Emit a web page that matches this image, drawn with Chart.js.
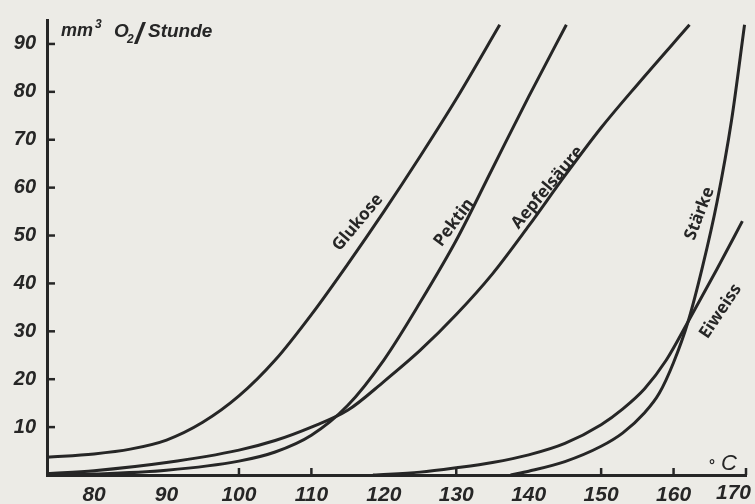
<!DOCTYPE html>
<html>
<head>
<meta charset="utf-8">
<script src="https://cdn.jsdelivr.net/npm/chart.js@4/dist/chart.umd.min.js"></script>
<style>
  html, body { margin: 0; padding: 0; background: #ecebe6; }
</style>
</head>
<body>
<canvas id="myChart" width="755" height="504"></canvas>
<script>
// tick values
let xTicks = [80, 90, 100, 110, 120, 130, 140, 150, 160, 170];
let xTickMarks = [100, 110, 130, 150, 160, 170];
let yTicks = [10, 20, 30, 40, 50, 60, 70, 80, 90];

// series (temperature in °C, mm3 O2 per hour)
let glukoseX = [73.5, 80, 85, 90, 95, 100, 105, 110, 115, 120, 125, 130, 136];
let glukoseY = [3.7, 4.4, 5.4, 7.3, 11, 16.5, 24, 33.5, 44, 55, 66.5, 78.5, 94];

let pektinX = [73.5, 80, 90, 100, 105, 110, 115, 120, 125, 130, 135, 140, 145.2];
let pektinY = [0, 0.2, 1, 2.9, 4.8, 8.3, 14.5, 24, 36, 49, 64, 79, 94];

let aepfelX = [73.5, 80, 90, 100, 105, 110, 115, 120, 125, 130, 135, 140, 145, 150, 155, 162.2];
let aepfelY = [0.3, 0.9, 2.6, 5.2, 7.2, 10, 13.5, 19.5, 26, 33.5, 42, 52, 62.5, 72.5, 81.5, 94];

let staerkeX = [137.5, 140, 145, 150, 153, 156, 158, 160, 162, 164, 166, 168, 169.8];
let staerkeY = [0, 0.8, 2.8, 6, 8.8, 13, 17, 23.5, 32, 43.5, 57, 74, 94];

let eiweissX = [118.5, 125, 130, 135, 140, 145, 150, 153, 156, 159, 162, 166, 169.5];
let eiweissY = [0, 0.6, 1.5, 2.6, 4.2, 6.6, 10.5, 13.8, 18, 24, 32, 43, 53];

let paper = '#ecebe6';
let ink = '#262626';

function points(xs, ys) {
    return xs.map((v, i) => ({ x: v, y: ys[i] }));
}

function curve(label, xs, ys) {
    return {
        label: label,
        data: points(xs, ys),
        borderColor: ink,
        borderWidth: 3,
        pointRadius: 0,
        fill: false,
        cubicInterpolationMode: 'monotone'
    };
}

// names written along the curves: anchor in data units, angle in degrees
let curveNames = [
    { text: 'Glukose', x: 116.4, y: 52.7, angle: -50 },
    { text: 'Pektin', x: 129.7, y: 52.7, angle: -53 },
    { text: 'Aepfelsäure', x: 142.6, y: 60, angle: -50 },
    { text: 'Stärke', x: 163.6, y: 54.6, angle: -69 },
    { text: 'Eiweiss', x: 166.5, y: 34.2, angle: -56 }
];

let inkPlugin = {
    id: 'ink',
    beforeDraw(chart) {
        let ctx = chart.ctx;
        ctx.save();
        ctx.fillStyle = paper;
        ctx.fillRect(0, 0, chart.width, chart.height);
        ctx.restore();
    },
    afterDraw(chart) {
        let ctx = chart.ctx;
        let x = chart.scales.x;
        let y = chart.scales.y;
        ctx.save();
        ctx.strokeStyle = ink;
        ctx.fillStyle = ink;
        ctx.lineWidth = 2.5;

        // ticks point inwards
        yTicks.forEach(v => {
            let py = y.getPixelForValue(v);
            ctx.beginPath();
            ctx.moveTo(x.left, py);
            ctx.lineTo(x.left + 8, py);
            ctx.stroke();
        });
        xTickMarks.forEach(v => {
            let px = x.getPixelForValue(v);
            ctx.beginPath();
            ctx.moveTo(px, y.bottom);
            ctx.lineTo(px, y.bottom - 7);
            ctx.stroke();
        });

        // last x label squeezed against the edge
        ctx.font = 'italic bold 21px "Liberation Sans"';
        ctx.textAlign = 'right';
        ctx.textBaseline = 'top';
        ctx.fillText('170', x.getPixelForValue(170) + 5, y.bottom + 8);

        // curve names
        ctx.font = 'bold 17px "Noto Sans"';
        ctx.textAlign = 'center';
        ctx.textBaseline = 'middle';
        curveNames.forEach(n => {
            ctx.save();
            ctx.translate(x.getPixelForValue(n.x), y.getPixelForValue(n.y));
            ctx.rotate(n.angle * Math.PI / 180);
            ctx.fillText(n.text, 0, 0);
            ctx.restore();
        });

        // unit of y axis
        ctx.textAlign = 'left';
        ctx.textBaseline = 'alphabetic';
        ctx.font = 'italic bold 18px "Liberation Sans"';
        ctx.fillText('mm', 61, 36);
        ctx.font = 'italic bold 12px "Liberation Sans"';
        ctx.fillText('3', 95, 28);
        ctx.font = 'italic bold 19px "Liberation Sans"';
        ctx.fillText('O', 114, 37);
        ctx.font = 'italic bold 12px "Liberation Sans"';
        ctx.fillText('2', 127, 43);
        ctx.font = 'italic bold 30px "Liberation Sans"';
        ctx.fillText('/', 135, 44);
        ctx.font = 'italic bold 19px "Liberation Sans"';
        ctx.fillText('Stunde', 148, 37);

        // unit of x axis
        ctx.font = 'bold 15px "Liberation Sans"';
        ctx.fillText('°', 709, 470);
        ctx.font = 'italic 22px "Liberation Sans"';
        ctx.fillText('C', 721, 470);
        ctx.restore();
    }
};

let ctx = document.getElementById('myChart').getContext('2d');

let chart = new Chart(ctx, {
    type: 'line',
    data: {
        datasets: [
            curve('Glukose', glukoseX, glukoseY),
            curve('Pektin', pektinX, pektinY),
            curve('Aepfelsäure', aepfelX, aepfelY),
            curve('Stärke', staerkeX, staerkeY),
            curve('Eiweiss', eiweissX, eiweissY)
        ]
    },
    options: {
        responsive: false,
        animation: false,
        layout: { padding: { top: 20, right: 9, left: 0, bottom: 0 } },
        plugins: {
            legend: { display: false },
            tooltip: { enabled: false }
        },
        scales: {
            x: {
                type: 'linear',
                min: 73.5,
                max: 170,
                grid: { display: false, drawTicks: false },
                border: { display: true, color: ink, width: 3 },
                afterBuildTicks: scale => { scale.ticks = xTicks.map(v => ({ value: v })); },
                afterFit: scale => { scale.height = 29; scale.paddingLeft = 0; scale.paddingRight = 0; },
                ticks: {
                    color: ink,
                    padding: 8,
                    maxRotation: 0,
                    autoSkip: false,
                    font: { family: 'Liberation Sans', size: 21, style: 'italic', weight: 'bold' },
                    callback: v => (v === 170 ? '' : String(v))
                }
            },
            y: {
                min: 0,
                max: 95,
                grid: { display: false, drawTicks: false },
                border: { display: true, color: ink, width: 3 },
                afterBuildTicks: scale => { scale.ticks = yTicks.map(v => ({ value: v })); },
                afterFit: scale => { scale.width = 47; scale.paddingTop = 0; scale.paddingBottom = 0; },
                ticks: {
                    color: ink,
                    padding: 11,
                    autoSkip: false,
                    font: { family: 'Liberation Sans', size: 20, style: 'italic', weight: 'bold' }
                }
            }
        }
    },
    plugins: [inkPlugin]
});
</script>
</body>
</html>
